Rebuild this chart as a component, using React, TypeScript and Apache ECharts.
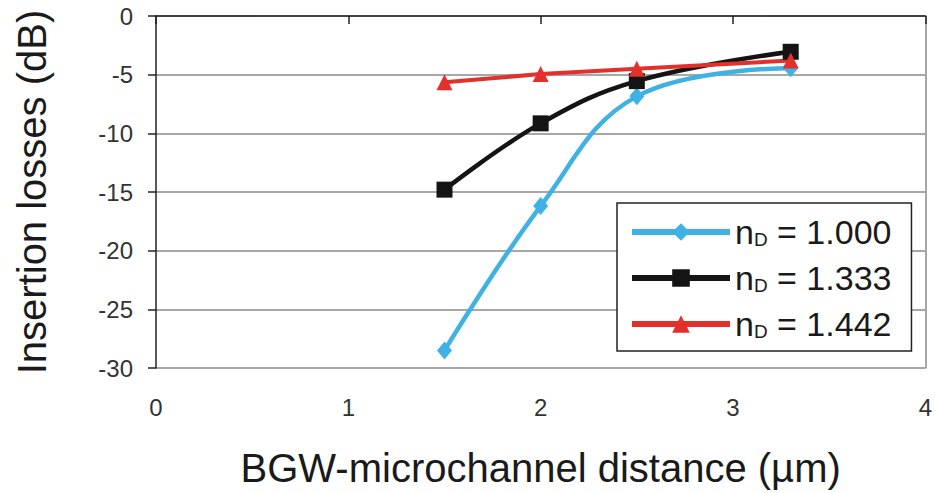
import React, { useEffect, useRef } from "react";
import * as echarts from "echarts";

const xValues = [1.5, 2.0, 2.5, 3.3];
const legendLabels = ["1.000", "1.333", "1.442"];
const nd1000 = [-28.5, -16.2, -6.85, -4.45];
const nd1333 = [-14.8, -9.15, -5.55, -3.05];
const nd1442 = [-5.65, -4.95, -4.5, -3.8];
const xTicks = [0, 1, 2, 3, 4];
const yTicks = [0, -5, -10, -15, -20, -25, -30];

const FONT = "Liberation Sans, Arial, sans-serif";

export default function App() {
  const ref = useRef<HTMLDivElement>(null);
  useEffect(() => {
    if (!ref.current) return;
    const chart = echarts.init(ref.current, null, { renderer: "svg" });
    const mk = (vals: number[]) => xValues.map((x, i) => [x, vals[i]]);
    const specs = [
      { key: legendLabels[0], data: nd1000, color: "#3fb2e3", symbol: "diamond", size: [15, 18], width: 4.5, smooth: 0.4 },
      { key: legendLabels[1], data: nd1333, color: "#141414", symbol: "rect", size: 16, width: 4.5, smooth: 0.4 },
      { key: legendLabels[2], data: nd1442, color: "#e2312d", symbol: "triangle", size: 16, width: 4, smooth: 0 },
    ];
    chart.setOption({
      animation: false,
      backgroundColor: "#ffffff",
      textStyle: { fontFamily: FONT },
      grid: { left: 156, right: 7, top: 16, bottom: 123.5, containLabel: false },
      xAxis: {
        type: "value",
        min: xTicks[0],
        max: xTicks[xTicks.length - 1],
        interval: 1,
        name: "BGW-microchannel distance (\u00b5m)",
        nameLocation: "middle",
        nameGap: 80,
        nameTextStyle: { fontSize: 40, color: "#1a1a1a", fontFamily: FONT, verticalAlign: "top" },
        axisLine: { show: true, lineStyle: { color: "#222", width: 1.5 } },
        axisTick: { show: true, length: 8, inside: false, lineStyle: { color: "#222", width: 1.5 } },
        axisLabel: { fontSize: 24, color: "#333", margin: 27, fontFamily: FONT },
        splitLine: { show: false },
      },
      yAxis: [
        {
          type: "value",
          min: yTicks[yTicks.length - 1],
          max: yTicks[0],
          interval: 5,
          name: "Insertion losses (dB)",
          nameLocation: "middle",
          nameGap: 104,
          nameTextStyle: { fontSize: 40, color: "#1a1a1a", fontFamily: FONT },
          axisLine: { show: true, lineStyle: { color: "#222", width: 1.5 } },
          axisTick: { show: true, length: 8, lineStyle: { color: "#222", width: 1.5 } },
          axisLabel: { fontSize: 24, color: "#333", margin: 23, fontFamily: FONT },
          splitLine: { show: true, lineStyle: { color: "#8a8a8a", width: 1.5 } },
        },
        {
          type: "value",
          position: "right",
          min: yTicks[yTicks.length - 1],
          max: yTicks[0],
          interval: 5,
          axisLine: { show: true, lineStyle: { color: "#8a8a8a", width: 1.5 } },
          axisTick: { show: false },
          axisLabel: { show: false },
          splitLine: { show: false },
        },
      ],
      legend: {
        orient: "vertical",
        left: 617,
        top: 203,
        backgroundColor: "#ffffff",
        borderColor: "#222",
        borderWidth: 1.5,
        borderRadius: 0,
        padding: [12, 20, 10, 12],
        itemWidth: 98,
        itemHeight: 22,
        itemGap: 12,
        lineStyle: { width: 6 },
        data: specs.map((s) => "n_D = " + s.key),
        formatter: (name: string) => "{n|n}{d|D}{n| = " + name.replace("n_D = ", "") + "}",
        textStyle: {
          fontFamily: FONT,
          color: "#1a1a1a",
          rich: {
            n: { fontSize: 34, fontFamily: FONT, color: "#1a1a1a", lineHeight: 34 },
            d: { fontSize: 19, fontFamily: FONT, color: "#1a1a1a", lineHeight: 34, verticalAlign: "bottom" },
          },
        },
      },
      series: specs.map((s) => ({
        name: "n_D = " + s.key,
        type: "line",
        data: mk(s.data),
        smooth: s.smooth ? s.smooth : false,
        symbol: s.symbol,
        symbolSize: s.size,
        itemStyle: { color: s.color },
        lineStyle: { color: s.color, width: s.width },
        z: 3,
      })),
    });
    return () => chart.dispose();
  }, []);
  return <div ref={ref} style={{ width: 935, height: 493, position: "absolute", left: 0, top: 0 }} />;
}
